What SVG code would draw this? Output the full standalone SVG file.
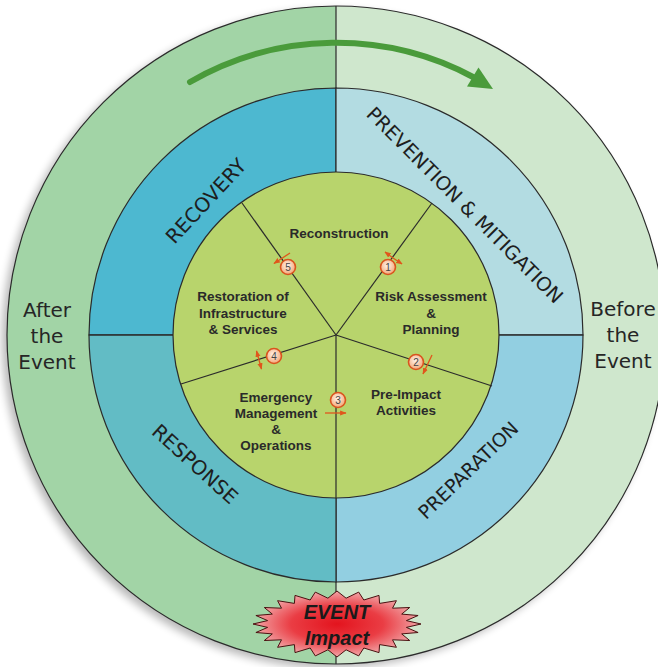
<svg xmlns="http://www.w3.org/2000/svg" width="658" height="667" viewBox="0 0 658 667">
<defs>
<filter id="blur" x="-10%" y="-10%" width="120%" height="120%"><feGaussianBlur stdDeviation="4"/></filter>
<radialGradient id="burst" cx="50%" cy="50%" r="50%">
<stop offset="0" stop-color="#e3141e"/><stop offset="0.55" stop-color="#ea3d44"/><stop offset="1" stop-color="#f2a6a8"/>
</radialGradient>
<radialGradient id="mk" cx="45%" cy="40%" r="60%">
<stop offset="0" stop-color="#fff4ea"/><stop offset="1" stop-color="#f4a777"/>
</radialGradient>
<marker id="ah" viewBox="0 0 10 10" refX="9" refY="5" markerWidth="5" markerHeight="5" orient="auto-start-reverse">
<path d="M0,1 L10,5 L0,9 Z" fill="#e0561c"/>
</marker>
<style>
.ln{stroke:#2b2b2b;stroke-width:1.2;fill:none}
.ring{stroke:#2b2b2b;stroke-width:1.2}
.lbl{font-family:"DejaVu Sans",sans-serif;font-size:20px;fill:#1e1e1e;text-anchor:middle}
.in{font-family:"Liberation Sans",Arial,sans-serif;font-weight:bold;font-size:13.5px;fill:#2a2a2a;text-anchor:middle}
.side{font-family:"DejaVu Sans",sans-serif;font-size:20px;fill:#262626;text-anchor:middle}
.mc{fill:url(#mk);stroke:#d9541e;stroke-width:1.6}
.mt{font-family:"Liberation Sans",Arial,sans-serif;font-size:10px;fill:#444;text-anchor:middle}
.sa{stroke:#e0561c;stroke-width:1.3;fill:none}
.ev{font-family:"Liberation Sans",Arial,sans-serif;font-weight:bold;font-style:italic;font-size:20px;fill:#1a1a1a;text-anchor:middle}
</style>
</defs>

<circle cx="331" cy="339" r="329" fill="#000" opacity="0.28" filter="url(#blur)"/>

<g id="outer-ring">
<path d="M336,6 A329,329 0 0,0 336,664 Z" fill="#a2d4a6"/>
<path d="M336,6 A329,329 0 0,1 336,664 Z" fill="#cfe7cd"/>
<circle cx="336" cy="335" r="329" fill="none" class="ln"/>
</g>

<g id="recovery">
<path d="M336,335 L336,88 A247,247 0 0,0 89,335 Z" fill="#4db8d0" class="ring"/>
<text class="lbl" transform="translate(206,201) rotate(-47)" dy="7">RECOVERY</text>
</g>
<g id="prevention">
<path d="M336,335 L336,88 A247,247 0 0,1 583,335 Z" fill="#b3dce2" class="ring"/>
<text class="lbl" style="font-size:19.5px" transform="translate(465,205) rotate(45)" dy="7">PREVENTION &amp; MITIGATION</text>
</g>
<g id="preparation">
<path d="M336,335 L583,335 A247,247 0 0,1 336,582 Z" fill="#92cfe1" class="ring"/>
<text class="lbl" style="font-size:19px" transform="translate(468,470) rotate(-44)" dy="7">PREPARATION</text>
</g>
<g id="response">
<path d="M336,335 L336,582 A247,247 0 0,1 89,335 Z" fill="#62bcc5" class="ring"/>
<text class="lbl" transform="translate(195,464) rotate(42)" dy="7">RESPONSE</text>
</g>

<g id="inner-circle">
<circle cx="336" cy="335" r="163" fill="#b8d46c" class="ring"/>
</g>

<g id="connectors">
<line class="ln" x1="336" y1="6" x2="336" y2="88"/>
<line class="ln" x1="336" y1="582" x2="336" y2="664"/>
<line class="ln" x1="89" y1="335" x2="173" y2="335"/>
<line class="ln" x1="499" y1="335" x2="583" y2="335"/>
<line class="ln" x1="336" y1="335" x2="242" y2="203"/>
<line class="ln" x1="336" y1="335" x2="432" y2="203"/>
<line class="ln" x1="336" y1="335" x2="492" y2="386"/>
<line class="ln" x1="336" y1="335" x2="181" y2="384"/>
<line class="ln" x1="336" y1="335" x2="336" y2="498"/>
<path d="M190,82 A292,292 0 0,1 475,78" fill="none" stroke="#4a9b3b" stroke-width="6" stroke-linecap="round"/>
<path d="M493,89 L478.5,67.5 L467,86.5 Z" fill="#4a9b3b"/>
</g>

<g id="reconstruction"><text class="in" x="339" y="238">Reconstruction</text></g>
<g id="risk">
<text class="in" x="431" y="301">Risk Assessment</text>
<text class="in" x="431" y="318">&amp;</text>
<text class="in" x="431" y="334">Planning</text>
</g>
<g id="pre-impact">
<text class="in" x="406" y="399">Pre-Impact</text>
<text class="in" x="406" y="415">Activities</text>
</g>
<g id="emergency">
<text class="in" x="276" y="402">Emergency</text>
<text class="in" x="276" y="418">Management</text>
<text class="in" x="276" y="434">&amp;</text>
<text class="in" x="276" y="450">Operations</text>
</g>
<g id="restoration">
<text class="in" x="243" y="301">Restoration of</text>
<text class="in" x="243" y="318">Infrastructure</text>
<text class="in" x="243" y="334">&amp; Services</text>
</g>

<g id="marker-1">
<line class="sa" x1="393" y1="258" x2="385" y2="252" marker-end="url(#ah)"/>
<line class="sa" x1="393" y1="258" x2="402" y2="264" marker-end="url(#ah)"/>
<circle class="mc" cx="388" cy="267" r="7.5"/><text class="mt" x="388" y="270.5">1</text>
</g>
<g id="marker-2">
<line class="sa" x1="432" y1="355" x2="423" y2="374" marker-end="url(#ah)"/>
<circle class="mc" cx="416" cy="362" r="7.5"/><text class="mt" x="416" y="365.5">2</text>
</g>
<g id="marker-3">
<line class="sa" x1="325" y1="413" x2="346" y2="413" marker-end="url(#ah)"/>
<circle class="mc" cx="338" cy="400" r="7.5"/><text class="mt" x="338" y="403.5">3</text>
</g>
<g id="marker-4">
<line class="sa" x1="259" y1="360" x2="256.5" y2="351" marker-end="url(#ah)"/>
<line class="sa" x1="259" y1="360" x2="261.5" y2="369" marker-end="url(#ah)"/>
<circle class="mc" cx="274" cy="356" r="7.5"/><text class="mt" x="274" y="359.5">4</text>
</g>
<g id="marker-5">
<line class="sa" x1="290" y1="253" x2="274" y2="263.5" marker-end="url(#ah)"/>
<circle class="mc" cx="288" cy="267" r="7.5"/><text class="mt" x="288" y="270.5">5</text>
</g>

<g id="after">
<text class="side" x="47" y="317">After</text>
<text class="side" x="47" y="343">the</text>
<text class="side" x="47" y="369">Event</text>
</g>
<g id="before">
<text class="side" x="623" y="316">Before</text>
<text class="side" x="623" y="342">the</text>
<text class="side" x="623" y="368">Event</text>
</g>

<g id="event-impact">
<polygon points="421,624 406.4,627.4 418.1,632.5 401.7,633.9 409.7,640.5 392.5,639.8 396.4,647.3 379.6,644.6 379,652.6 363.8,648 358.7,655.9 346.1,649.8 337,657 327.9,649.8 315.3,655.9 310.2,648 295,652.6 294.4,644.6 277.6,647.3 281.5,639.8 264.3,640.5 272.3,633.9 255.9,632.5 267.6,627.4 253,624 267.6,620.6 255.9,615.5 272.3,614.1 264.3,607.5 281.5,608.2 277.6,600.7 294.4,603.4 295,595.4 310.2,600 315.3,592.1 327.9,598.2 337,591 346.1,598.2 358.7,592.1 363.8,600 379,595.4 379.6,603.4 396.4,600.7 392.5,608.2 409.7,607.5 401.7,614.1 418.1,615.5 406.4,620.6" fill="url(#burst)" stroke="#4a1010" stroke-width="1"/>
<text class="ev" x="337" y="619">EVENT</text>
<text class="ev" x="337" y="645">Impact</text>
</g>
</svg>
